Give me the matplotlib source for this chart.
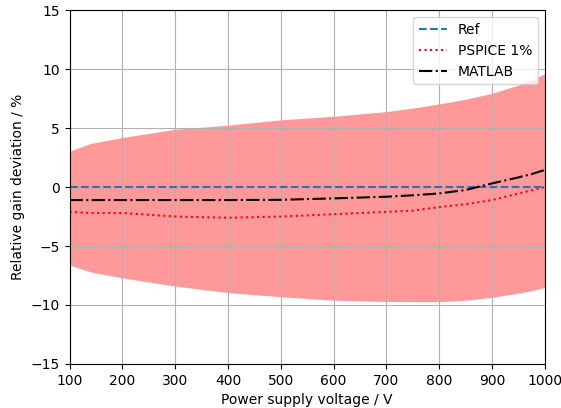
import numpy as np
import matplotlib
matplotlib.use('Agg')
from matplotlib import pyplot as plt

# voltages
v = [100, 140, 200, 300, 400, 500, 600, 700, 750, 800, 850, 900, 950, 975, 1000]
# tolerance band (upper / lower), %
band_hi = [3.05, 3.7, 4.2, 4.9, 5.25, 5.7, 6.0, 6.4, 6.7, 7.05, 7.45, 7.95, 8.65, 9.1, 9.6]
band_lo = [-6.6, -7.2, -7.7, -8.4, -8.95, -9.3, -9.6, -9.7, -9.72, -9.72, -9.6, -9.35, -9.0, -8.8, -8.5]
# PSPICE 1% curve
pspice = [-2.1, -2.2, -2.2, -2.5, -2.6, -2.5, -2.3, -2.1, -2.0, -1.7, -1.45, -1.1, -0.55, -0.28, 0.0]
# MATLAB curve
matlab = [-1.1, -1.1, -1.1, -1.1, -1.1, -1.08, -0.96, -0.82, -0.7, -0.54, -0.25, 0.31, 0.82, 1.1, 1.45]
ref = [0.0] * len(v)

fig = plt.figure(figsize=(5.61, 4.08), dpi=100)
ax = fig.add_axes([0.124, 0.108, 0.847, 0.867])

ax.fill_between(v, band_lo, band_hi, color='r', alpha=0.4, linewidth=0)
ax.plot(v, ref, '--', color='tab:blue', label='Ref')
ax.plot(v, pspice, 'r:', label='PSPICE 1%')
ax.plot(v, matlab, 'k-.', label='MATLAB')

ax.set_xlim(100, 1000)
ax.set_ylim(-15, 15)
ax.set_xticks(np.arange(100, 1001, 100))
ax.set_yticks(np.arange(-15, 16, 5))
ax.grid(True)
ax.set_xlabel('Power supply voltage / V')
ax.set_ylabel('Relative gain deviation / %')
ax.legend(loc='upper right')

fig.savefig('out.png', dpi=100)
